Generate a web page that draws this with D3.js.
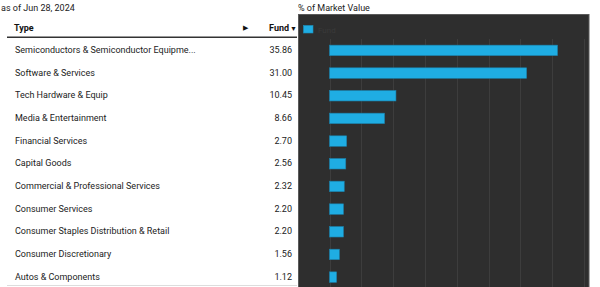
<!DOCTYPE html>
<meta charset="utf-8">
<style>
body { margin: 0; background: #fff; }
svg { display: block; font-family: Roboto, "Noto Sans", sans-serif; }
.row text { font-size: 9px; fill: #222; }
.grid line { stroke: #3d3d3d; stroke-width: 1; }
</style>
<svg width="600" height="287"></svg>
<script src="https://cdn.jsdelivr.net/npm/d3@7"></script>
<script>

var categories = [
  "Semiconductors & Semiconductor Equipme...",
  "Software & Services",
  "Tech Hardware & Equip",
  "Media & Entertainment",
  "Financial Services",
  "Capital Goods",
  "Commercial & Professional Services",
  "Consumer Services",
  "Consumer Staples Distribution & Retail",
  "Consumer Discretionary",
  "Autos & Components"
];
var fundValues = [35.86, 31.00, 10.45, 8.66, 2.70, 2.56, 2.32, 2.20, 2.20, 1.56, 1.12];
var valueLabels = ["35.86", "31.00", "10.45", "8.66", "2.70", "2.56", "2.32", "2.20", "2.20", "1.56", "1.12"];
var xTicks = [0, 5, 10, 15, 20, 25, 30, 35, 40];

var svg = d3.select("svg");

var x = d3.scaleLinear()
    .domain([0, 40])
    .range([329.5, 583.9]);

var y = d3.scaleBand()
    .domain(categories)
    .range([38.3, 287.7]);

// captions
svg.append("text")
    .attr("x", 1).attr("y", 10.5)
    .attr("font-size", 9).attr("fill", "#222")
    .text("as of Jun 28, 2024");

svg.append("text")
    .attr("x", 298).attr("y", 11)
    .attr("font-size", 9).attr("fill", "#222")
    .text("% of Market Value");

// table header
svg.append("text")
    .attr("x", 14).attr("y", 30.5)
    .attr("font-size", 9).attr("font-weight", "bold").attr("fill", "#111")
    .text("Type");
svg.append("text")
    .attr("x", 243).attr("y", 30)
    .attr("font-size", 6.5).attr("fill", "#111")
    .text("\u25B6");
var fundHead = svg.append("text")
    .attr("x", 297).attr("y", 30.5)
    .attr("text-anchor", "end")
    .attr("font-size", 9).attr("font-weight", "bold").attr("fill", "#111");
fundHead.append("tspan").text("Fund");
fundHead.append("tspan").attr("font-size", 7).attr("dx", 1).text("\u25BC");

svg.append("line")
    .attr("x1", 7).attr("x2", 297)
    .attr("y1", 37.2).attr("y2", 37.2)
    .attr("stroke", "#333").attr("stroke-width", 1.5);

svg.append("line")
    .attr("x1", 7).attr("x2", 297)
    .attr("y1", 285.5).attr("y2", 285.5)
    .attr("stroke", "#ddd").attr("stroke-width", 1);

// table rows
var rows = svg.append("g").attr("class", "row")
  .selectAll("g")
  .data(categories)
  .enter().append("g");

rows.append("text")
    .attr("x", 15)
    .attr("y", function(d) { return y(d) + y.bandwidth() / 2 + 3.4; })
    .text(function(d) { return d; });

rows.append("text")
    .attr("x", 292)
    .attr("text-anchor", "end")
    .attr("y", function(d) { return y(d) + y.bandwidth() / 2 + 3.4; })
    .text(function(d, i) { return valueLabels[i]; });

// dark chart panel
svg.append("rect")
    .attr("x", 298.5).attr("y", 14.5)
    .attr("width", 290.5).attr("height", 280)
    .attr("fill", "#2e2e2e")
    .attr("stroke", "#5a5a5a").attr("stroke-width", 1);

svg.append("g").attr("class", "grid")
  .selectAll("line")
  .data(xTicks)
  .enter().append("line")
    .attr("x1", function(d) { return Math.round(x(d)) + 0.5; })
    .attr("x2", function(d) { return Math.round(x(d)) + 0.5; })
    .attr("y1", 39)
    .attr("y2", 290);

// legend
svg.append("rect")
    .attr("x", 303.5).attr("y", 25.5)
    .attr("width", 9.5).attr("height", 7.5)
    .attr("fill", "#1fade3").attr("stroke", "#1b8fbd").attr("stroke-width", 0.6);
svg.append("text")
    .attr("x", 318).attr("y", 32.5)
    .attr("font-size", 8).attr("fill", "#3a3a3a")
    .text("Fund");

// bars
svg.append("g")
  .selectAll("rect")
  .data(fundValues)
  .enter().append("rect")
    .attr("x", x(0))
    .attr("y", function(d, i) { return y(categories[i]) + y.bandwidth() / 2 - 4.5; })
    .attr("width", function(d) { return x(d) - x(0); })
    .attr("height", 10.5)
    .attr("fill", "#1fade3")
    .attr("stroke", "#1b7fa8")
    .attr("stroke-width", 0.6);

</script>
